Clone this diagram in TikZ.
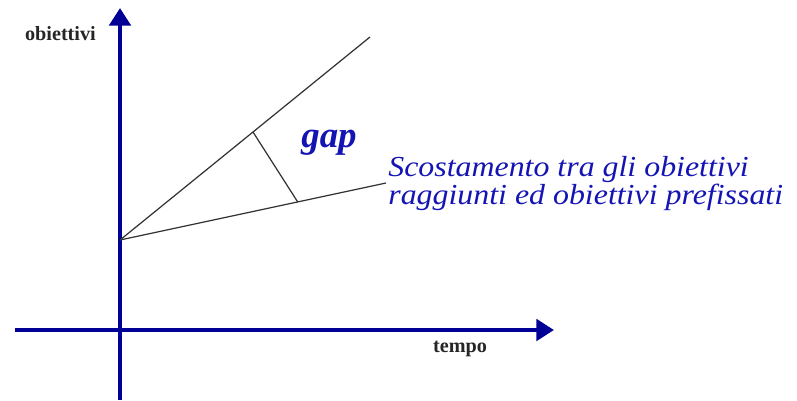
\documentclass[tikz,border=0pt]{standalone}
\usepackage{fontspec}
\setmainfont{Liberation Serif}
\newfontfamily\widefont[FakeStretch=1.1]{Liberation Serif}
\usetikzlibrary{arrows.meta, positioning, calc}
\definecolor{axisblue}{RGB}{0, 0, 150}
\definecolor{textblue}{RGB}{20, 20, 180}

\begin{document}
\begin{tikzpicture}[x=0.02cm, y=-0.02cm,
    axis/.style={draw=axisblue, line width=2.8pt,
                 -{Triangle[length=10pt, width=12pt]}},
    trend/.style={draw=black!80, line width=0.7pt},
    axislabel/.style={font=\bfseries\fontsize{11.5}{13}\selectfont, text=black!85},
    note/.style={font=\widefont\itshape\fontsize{16.5}{14.8}\selectfont,
                 text=textblue, align=left}]
    \useasboundingbox (0,0) rectangle (797,400);
    % axes
    \coordinate (ybot) at (120, 400);
    \coordinate (ytop) at (120, 8);
    \coordinate (xleft) at (15, 330);
    \coordinate (xright) at (554, 330);
    \draw[axis] (ybot) -- (ytop);
    \draw[axis] (xleft) -- (xright);
    \node[axislabel, anchor=east] (ylab) at (102, 34) {obiettivi};
    \node[axislabel] (xlab) at (460, 349) {tempo};
    % lines
    \coordinate (start) at (120, 240);
    \coordinate (planned) at (370, 37);
    \coordinate (reached) at (386, 183);
    \draw[trend] (start) -- (planned);
    \draw[trend] (start) -- (reached);
    \coordinate (gaptop) at ($(start)!0.532!(planned)$);
    \coordinate (gapbot) at ($(start)!0.668!(reached)$);
    \draw[trend] (gaptop) -- (gapbot);
    \node[font=\bfseries\itshape\fontsize{21}{24}\selectfont, text=textblue]
        (gap) at (329, 143) {gap};
    \node[note, anchor=north west, inner sep=0pt] (desc) at (388, 156) {
      Scostamento tra gli obiettivi\\
      raggiunti ed obiettivi prefissati
    };
  \end{tikzpicture}
\end{document}
